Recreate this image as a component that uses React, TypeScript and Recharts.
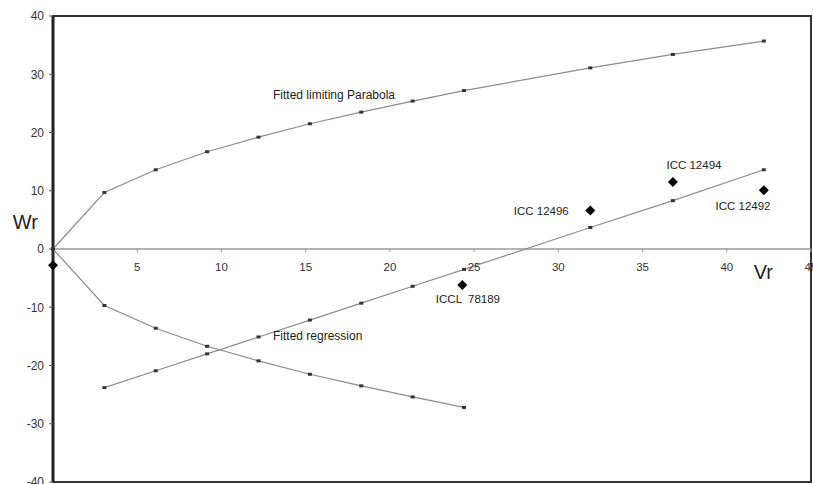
import {
  ScatterChart,
  Scatter,
  XAxis,
  YAxis,
  ReferenceLine,
  ReferenceDot,
  ReferenceArea,
} from 'recharts'

// Vr values where the fitted curves were evaluated
const curveVr = [0, 3.05, 6.1, 9.15, 12.2, 15.25, 18.3, 21.35, 24.4, 31.9, 36.8, 42.2]
const upperWr = [0, 9.7, 13.6, 16.7, 19.2, 21.5, 23.5, 25.4, 27.2, 31.1, 33.4, 35.7]

const lowerVr = [0, 3.05, 6.1, 9.15, 12.2, 15.25, 18.3, 21.35, 24.4]
const lowerWr = [0, -9.7, -13.6, -16.7, -19.2, -21.5, -23.5, -25.4, -27.2]

const regVr = [3.05, 6.1, 9.15, 12.2, 15.25, 18.3, 21.35, 24.4, 31.9, 36.8, 42.2]
const regWr = [-23.8, -20.9, -18.0, -15.1, -12.2, -9.3, -6.4, -3.5, 3.7, 8.3, 13.6]

// observed accessions
const accVr = [24.3, 31.9, 36.8, 42.2, 0]
const accWr = [-6.2, 6.6, 11.5, 10.1, -2.8]

const xTicks = [5, 10, 15, 20, 25, 30, 35, 40, 45]
const yTicks = [-40, -30, -20, -10, 0, 10, 20, 30, 40]

const upperData = curveVr.map((x, i) => ({ x, y: upperWr[i] }))
const lowerData = lowerVr.map((x, i) => ({ x, y: lowerWr[i] }))
const regData = regVr.map((x, i) => ({ x, y: regWr[i] }))
const accData = accVr.map((x, i) => ({ x, y: accWr[i] }))

const LINE = { stroke: '#8c8c8c', strokeWidth: 1.2 }
const TEXT = '#222'

// eslint-disable-next-line @typescript-eslint/no-explicit-any
function SmallMark(p: any) {
  return <rect x={p.cx - 2} y={p.cy - 1.5} width={4} height={3} fill="#333" />
}

// eslint-disable-next-line @typescript-eslint/no-explicit-any
function Diamond(p: any) {
  const s = 5
  return (
    <polygon
      points={`${p.cx},${p.cy - s} ${p.cx + s},${p.cy} ${p.cx},${p.cy + s} ${p.cx - s},${p.cy}`}
      fill="#000"
    />
  )
}

function note(x: number, y: number, text: string, pos: 'left' | 'right', size = 11, offset = 0) {
  return (
    <ReferenceDot
      key={text}
      x={x}
      y={y}
      r={0}
      stroke="none"
      fill="none"
      label={{ value: text, position: pos, offset, fontSize: size, fill: TEXT }}
    />
  )
}

export default function App() {
  return (
    <div
      style={{
        position: 'absolute',
        left: 0,
        top: 0,
        fontFamily: '"Liberation Sans", Arial, sans-serif',
        background: '#fff',
      }}
    >
      <ScatterChart width={813} height={484} margin={{ top: 16, right: 2, bottom: 2, left: 8 }}>
        <XAxis type="number" dataKey="x" domain={[0, 45]} hide />
        <YAxis
          type="number"
          dataKey="y"
          domain={[-40, 40]}
          ticks={yTicks}
          interval={0}
          width={45}
          tickSize={4}
          tickMargin={5}
          axisLine={{ stroke: '#222', strokeWidth: 3 }}
          tickLine={{ stroke: '#555' }}
          tick={{ fill: '#333', fontSize: 12 }}
        />
        <ReferenceArea
          x1={0}
          x2={45}
          y1={-40}
          y2={40}
          fill="none"
          fillOpacity={0}
          stroke="#333"
          strokeWidth={2}
        />
        <ReferenceLine y={0} stroke="#999" strokeWidth={1.5} />
        {xTicks.map((v) => (
          <ReferenceLine
            key={`t-${v}`}
            segment={[
              { x: v, y: 0 },
              { x: v, y: -0.55 },
            ]}
            stroke="#999"
          />
        ))}
        {xTicks.map((v) => (
          <ReferenceDot
            key={`l-${v}`}
            x={v}
            y={0}
            r={0}
            stroke="none"
            fill="none"
            label={{ value: v, position: 'bottom', offset: 14, fontSize: 11.5, fill: '#333' }}
          />
        ))}

        <Scatter data={upperData} line={LINE} shape={<SmallMark />} isAnimationActive={false} />
        <Scatter data={lowerData} line={LINE} shape={<SmallMark />} isAnimationActive={false} />
        <Scatter data={regData} line={LINE} shape={<SmallMark />} isAnimationActive={false} />
        <Scatter data={accData} shape={<Diamond />} isAnimationActive={false} />

        {note(13.06, 26.4, 'Fitted limiting Parabola', 'right', 12)}
        {note(13.06, -14.9, 'Fitted regression', 'right', 12)}
        {note(22.73, -8.6, 'ICCL \u00a078189', 'right', 11.5)}
        {note(30.62, 6.5, 'ICC 12496', 'left', 11.5)}
        {note(36.42, 14.4, 'ICC 12494', 'right', 11.5)}
        {note(39.33, 7.4, 'ICC 12492', 'right', 11.5)}
        {note(0, 4.6, 'Wr', 'left', 20, 15)}
        {note(41.6, -3.9, 'Vr', 'right', 20)}
      </ScatterChart>
    </div>
  )
}
